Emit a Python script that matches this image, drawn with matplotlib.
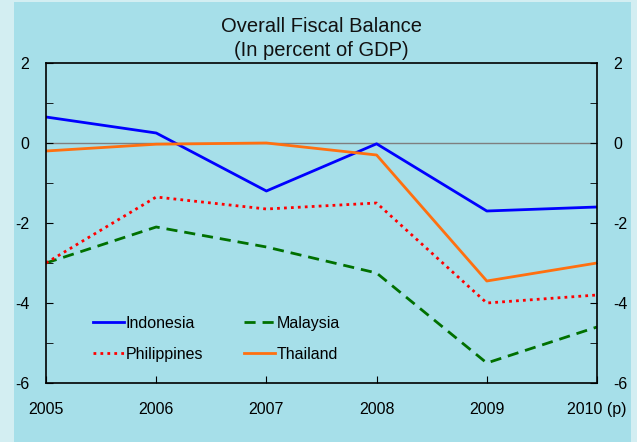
import matplotlib
matplotlib.use('Agg')
import matplotlib.pyplot as plt
from matplotlib.patches import Rectangle

## DATA
years = [2005, 2006, 2007, 2008, 2009, 2010]
year_labels = ['2005', '2006', '2007', '2008', '2009', '2010 (p)']
indonesia = [0.65, 0.25, -1.2, -0.02, -1.7, -1.6]
malaysia = [-3.0, -2.1, -2.6, -3.25, -5.5, -4.6]
philippines = [-3.0, -1.35, -1.65, -1.5, -4.0, -3.8]
thailand = [-0.2, -0.03, 0.0, -0.3, -3.45, -3.0]

plt.rcParams['font.family'] = ['Liberation Sans', 'DejaVu Sans']
plt.rcParams['axes.unicode_minus'] = False

W, H = 637, 442
fig = plt.figure(figsize=(W / 100, H / 100), dpi=100)
fig.patch.set_facecolor('#d3eef2')

## MAIN CYAN PANEL (BEHIND THE AXES)
fig.patches.append(Rectangle((14 / W, 0), (631 - 14) / W, (H - 2) / H,
                             transform=fig.transFigure, facecolor='#a6dfe9',
                             edgecolor='none', zorder=-10))

ax = fig.add_axes([46 / W, 1 - 383 / H, (597 - 46) / W, (383 - 63) / H])
ax.set_facecolor('none')

ax.axhline(0, color='#7f7f7f', lw=1.0, zorder=1)
l_ind, = ax.plot(years, indonesia, color='#0000ff', lw=2.0, label='Indonesia')
l_mal, = ax.plot(years, malaysia, color='#007000', lw=2.0, ls=(0, (4, 2.5)), label='Malaysia')
l_phi, = ax.plot(years, philippines, color='#ff0000', lw=2.0, ls=(0, (1, 1.5)), label='Philippines')
l_tha, = ax.plot(years, thailand, color='#ff7010', lw=2.0, label='Thailand')

ax.set_xlim(2005, 2010)
ax.set_ylim(-6, 2)
ax.set_xticks(years)
ax.set_xticklabels(year_labels)
ax.set_yticks([-6, -4, -2, 0, 2])
ax.set_yticks([-5, -3, -1, 1], minor=True)
ax.tick_params(axis='both', which='both', direction='in', labelsize=11.5,
               right=True, labelright=True, length=5, color='black')
ax.tick_params(axis='y', pad=12)
ax.tick_params(axis='x', pad=14)
for s in ax.spines.values():
    s.set_linewidth(1.2)

ax.set_title('Overall Fiscal Balance\n(In percent of GDP)', fontsize=14.5,
             linespacing=1.35, pad=5, color='#111111')

## COLUMN-WISE ORDER SO ROWS READ INDONESIA/MALAYSIA, PHILIPPINES/THAILAND
ax.legend([l_ind, l_phi, l_mal, l_tha], ['Indonesia', 'Philippines', 'Malaysia', 'Thailand'],
          ncol=2, frameon=False, loc='lower left', bbox_to_anchor=(0.06, 0.022),
          fontsize=11.5, handlelength=1.9, handletextpad=0.1, columnspacing=2.6,
          labelspacing=1.0)

plt.savefig('out.png', dpi=100, facecolor=fig.get_facecolor())
